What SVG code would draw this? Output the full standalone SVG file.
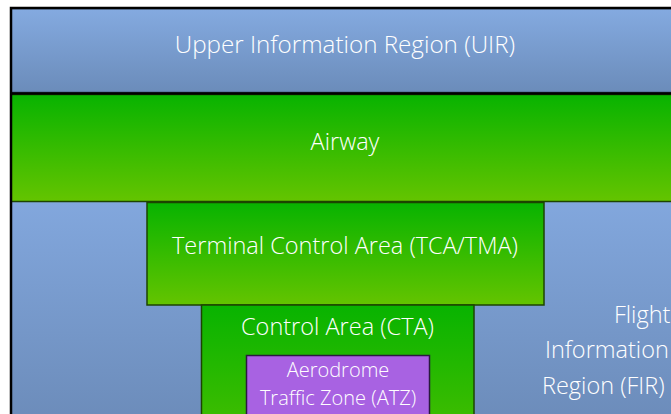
<svg xmlns="http://www.w3.org/2000/svg" width="671" height="414" viewBox="0 0 671 414">
<defs>
<linearGradient id="gUIR" gradientUnits="userSpaceOnUse" x1="0" y1="9" x2="0" y2="92"><stop offset="0" stop-color="#84aae0"/><stop offset="1" stop-color="#6b8cba"/></linearGradient>
<linearGradient id="gFIR" gradientUnits="userSpaceOnUse" x1="0" y1="202" x2="0" y2="420"><stop offset="0" stop-color="#82a7dd"/><stop offset="1" stop-color="#6c8cba"/></linearGradient>
<linearGradient id="gAir" gradientUnits="userSpaceOnUse" x1="0" y1="95" x2="0" y2="201"><stop offset="0" stop-color="#08b300"/><stop offset="1" stop-color="#64c400"/></linearGradient>
<linearGradient id="gTCA" gradientUnits="userSpaceOnUse" x1="0" y1="203" x2="0" y2="305"><stop offset="0" stop-color="#08b300"/><stop offset="1" stop-color="#64c400"/></linearGradient>
<linearGradient id="gCTA" gradientUnits="userSpaceOnUse" x1="0" y1="306" x2="0" y2="506"><stop offset="0" stop-color="#08b300"/><stop offset="1" stop-color="#64c400"/></linearGradient>
</defs>
<style>
.lbl{font-family:"Open Sans","Noto Sans","DejaVu Sans",sans-serif;font-weight:300;fill:#ffffff;font-size:23.5px;text-anchor:middle}
.big{font-size:24.2px}
.sm{font-size:20px}
.fir{text-anchor:start}
.grn{stroke:#1d4400;stroke-width:1.5}
</style>
<rect x="0" y="0" width="671" height="414" fill="#ffffff"/>
<g id="fir">
<rect x="11" y="201" width="680" height="230" fill="url(#gFIR)"/>
<text class="lbl fir" x="614" y="323">Flight</text>
<text class="lbl fir" x="545" y="358">Information</text>
<text class="lbl fir" x="542" y="394">Region (FIR)</text>
</g>
<g id="uir">
<rect x="11" y="8.5" width="680" height="84" fill="url(#gUIR)" stroke="#2e3d55" stroke-width="1.5"/>
<text class="lbl big" x="345" y="53">Upper Information Region (UIR)</text>
</g>
<g id="airway">
<rect x="11" y="94.5" width="680" height="107" fill="url(#gAir)" class="grn"/>
<text class="lbl" x="345" y="150">Airway</text>
</g>
<g id="tca">
<rect x="147" y="202.5" width="397" height="102.5" fill="url(#gTCA)" class="grn"/>
<text class="lbl" x="345" y="254">Terminal Control Area (TCA/TMA)</text>
</g>
<g id="cta">
<rect x="201.5" y="305" width="272.5" height="150" fill="url(#gCTA)" class="grn"/>
<text class="lbl" x="337.5" y="335">Control Area (CTA)</text>
</g>
<g id="atz">
<rect x="246.5" y="355.5" width="183" height="80" fill="#a862e2" stroke="#2a1a40" stroke-width="1.5"/>
<text class="lbl sm" x="338" y="377">Aerodrome</text>
<text class="lbl sm" x="338" y="405">Traffic Zone (ATZ)</text>
</g>
<g id="connectors" fill="none" stroke="#000000">
<path d="M11 414 V8 H680" stroke-width="2.5"/>
<path d="M11 93.5 H680" stroke-width="2.5"/>
</g>
</svg>
